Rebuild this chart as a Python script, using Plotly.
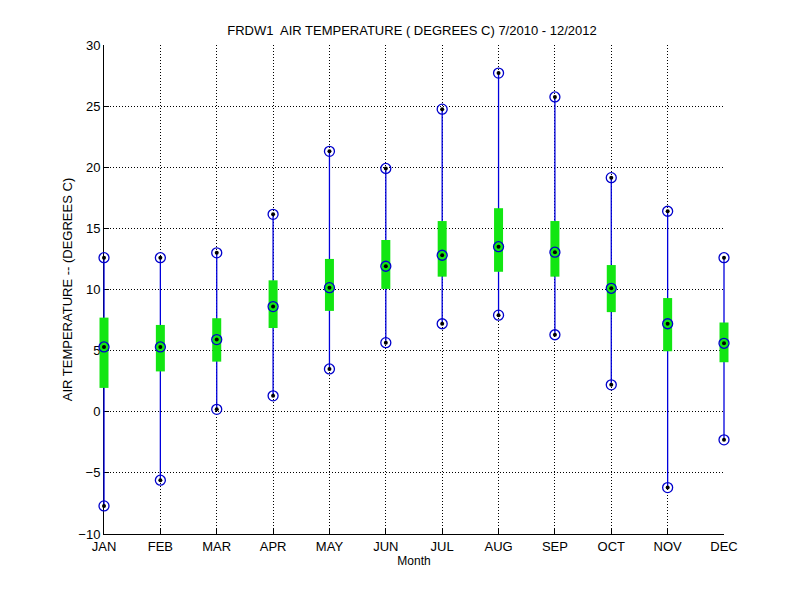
"""
Monthly air temperature range chart for FRDW1 (7/2010 - 12/2012).
"""
import plotly.graph_objects as go

# Monthly statistics (degrees C)
months = ["JAN", "FEB", "MAR", "APR", "MAY", "JUN",
          "JUL", "AUG", "SEP", "OCT", "NOV", "DEC"]
temp_min = [-7.7, -5.6, 0.2, 1.3, 3.5, 5.65, 7.2, 7.9, 6.3, 2.2, -6.2, -2.3]
temp_q1 = [1.95, 3.3, 4.1, 6.85, 8.25, 10.05, 11.05, 11.45, 11.05, 8.15, 4.95, 4.05]
temp_median = [5.3, 5.3, 5.9, 8.6, 10.15, 11.9, 12.8, 13.5, 13.05, 10.1, 7.2, 5.6]
temp_q3 = [7.7, 7.1, 7.65, 10.75, 12.5, 14.05, 15.6, 16.65, 15.6, 12.0, 9.3, 7.3]
temp_max = [12.6, 12.6, 13.0, 16.15, 21.3, 19.9, 24.75, 27.7, 25.75, 19.15, 16.4, 12.6]

x_pos = list(range(1, len(months) + 1))

FONT = "Liberation Sans, Arial, sans-serif"

# Layout geometry (pixels, figure coordinates)
W, H = 800, 600
AX_LEFT, AX_RIGHT = 96, 716      # where JAN and DEC sit
PAD = 10                         # extra room so end bars are not clipped
M_TOP, M_BOTTOM = 37, 74

# The data layer spans a slightly wider domain than the visible axes,
# so its range is widened by the same number of pixels.
px_per_unit = (AX_RIGHT - AX_LEFT) / (x_pos[-1] - x_pos[0])
data_range = [x_pos[0] - PAD / px_per_unit, x_pos[-1] + PAD / px_per_unit]
plot_w = (AX_RIGHT - AX_LEFT) + 2 * PAD


def segments(xs, lows, highs):
    """Build x/y lists of vertical segments separated by None."""
    sx, sy = [], []
    for x, lo, hi in zip(xs, lows, highs):
        sx += [x, x, None]
        sy += [lo, hi, None]
    return sx, sy


fig = go.Figure()

# Empty trace so the visible axes (x/y) get drawn
fig.add_trace(go.Scatter(x=[], y=[], mode="lines", showlegend=False,
                         hoverinfo="skip"))

# Whiskers (min to max)
wx, wy = segments(x_pos, temp_min, temp_max)
fig.add_trace(go.Scatter(
    x=wx, y=wy, mode="lines", xaxis="x2", yaxis="y2",
    line=dict(color="#0000dd", width=1.3),
    hoverinfo="skip", showlegend=False, cliponaxis=False
))

# Interquartile bars
bx, by = segments(x_pos, temp_q1, temp_q3)
fig.add_trace(go.Scatter(
    x=bx, y=by, mode="lines", xaxis="x2", yaxis="y2",
    line=dict(color="#12e612", width=9),
    hoverinfo="skip", showlegend=False, cliponaxis=False
))

# Markers at min, median and max
mx = x_pos * 3
my = temp_min + temp_median + temp_max
fig.add_trace(go.Scatter(
    x=mx, y=my, mode="markers", xaxis="x2", yaxis="y2",
    marker=dict(symbol="circle-open", size=10, color="#0000cc",
                line=dict(width=1.3, color="#0000cc")),
    showlegend=False, cliponaxis=False
))
fig.add_trace(go.Scatter(
    x=mx, y=my, mode="markers", xaxis="x2", yaxis="y2",
    marker=dict(symbol="circle", size=4, color="black"),
    showlegend=False, cliponaxis=False, hoverinfo="skip"
))

axis_common = dict(
    showline=True, linecolor="black", linewidth=1, mirror=False,
    ticks="inside", ticklen=5, tickcolor="black",
    showgrid=True, gridcolor="black", gridwidth=1, griddash="1px,2px",
    zeroline=False, tickfont=dict(size=13),
)
hidden = dict(visible=False, showgrid=False, zeroline=False, fixedrange=True)

fig.update_layout(
    width=W, height=H,
    paper_bgcolor="white", plot_bgcolor="rgba(0,0,0,0)",
    margin=dict(l=AX_LEFT - PAD, r=W - AX_RIGHT - PAD, t=M_TOP, b=M_BOTTOM),
    font=dict(family=FONT, size=13, color="black"),
    title=dict(
        text="FRDW1  AIR TEMPERATURE ( DEGREES C) 7/2010 - 12/2012",
        x=404 / W, xanchor="center", y=1 - 22 / H, yanchor="middle",
        font=dict(family=FONT, size=13, color="black")
    ),
    xaxis=dict(
        domain=[PAD / plot_w, 1 - PAD / plot_w],
        range=[x_pos[0], x_pos[-1]],
        tickvals=x_pos, ticktext=months,
        title=dict(text="Month", font=dict(size=12), standoff=4),
        **axis_common
    ),
    yaxis=dict(
        range=[-10, 30], dtick=5, anchor="x",
        title=dict(text="AIR TEMPERATURE -- (DEGREES C)",
                   font=dict(size=13), standoff=2),
        **axis_common
    ),
    xaxis2=dict(domain=[0, 1], range=data_range, anchor="y2", **hidden),
    yaxis2=dict(domain=[0, 1], range=[-10, 30], anchor="x2", **hidden),
)

fig.write_html("out.html")
